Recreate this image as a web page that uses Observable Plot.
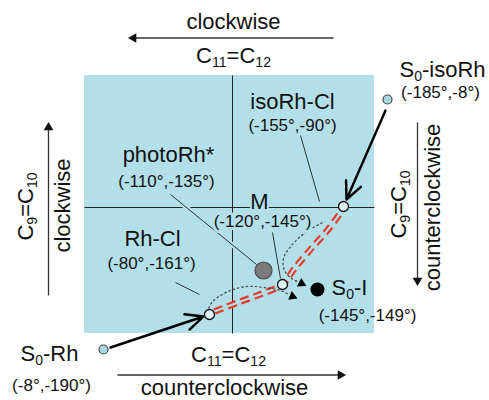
<!DOCTYPE html>
<html><head><meta charset="utf-8">
<script src="https://cdn.jsdelivr.net/npm/d3@7"></script>
<script src="https://cdn.jsdelivr.net/npm/@observablehq/plot@0.6"></script>
<style>body{margin:0;background:#fff;}</style>
</head><body><div id="chart"></div>
<script>
// ---- diagram data (schematic coordinates of the torsion-angle map) ----
const boxX = [84, 374], boxY = [75, 333];
const crossX1 = [84, 232], crossY1 = [207, 75], crossX2 = [374, 232], crossY2 = [207, 333];

const nodeName = ["S0-isoRh", "isoRh-Cl", "photoRh*", "M", "S0-I", "Rh-Cl", "S0-Rh"];
const nodeKind = ["ground", "open", "photo", "open", "product", "open", "ground"];
const nodeX = [387, 343, 263, 282, 317, 209, 103];
const nodeY = [99, 206, 270, 284, 289, 314, 349];

const leaderX1 = [170, 300, 272, 175], leaderY1 = [194, 135, 232, 282];
const leaderX2 = [256, 319, 280, 199], leaderY2 = [264, 201, 278, 294];

const pathX = [214, 240, 262, 282, 294, 310, 326, 341];
const pathY = [311, 301, 293, 284, 268, 249, 231, 211];

const dotSeries = ["a","a","a","a","a","a","a","b","b","b","b","b","b","b"];
const dotX = [208, 213, 230, 247, 263, 280, 288, 322, 305, 291, 283, 284, 291, 297];
const dotY = [308, 300, 290, 286, 287, 290, 294, 222, 232, 245, 258, 270, 278, 281];
const dotHeadX = [292, 301], dotHeadY = [296, 283], dotHeadAngle = [112, 118];

const bigArrowX1 = [385, 110], bigArrowY1 = [110, 347];
const bigArrowX2 = [346, 203], bigArrowY2 = [199, 316];

const axisX1 = [333, 117, 48, 417], axisY1 = [37.5, 374.5, 295, 122];
const axisX2 = [134, 339, 48, 417], axisY2 = [37.5, 374.5, 128, 279];
const axisHeadX = [133, 340, 48, 417], axisHeadY = [37.5, 374.5, 127, 280];
const axisHeadAngle = [-90, 90, 0, 180];

const outerText = ["clockwise", "C₁₁=C₁₂", "S₀-isoRh", "S₀-Rh", "C₁₁=C₁₂", "counterclockwise"];
const outerX = [233, 233, 442, 49, 228, 224];
const outerY = [21, 55, 69, 353, 354, 387];

const innerText = ["isoRh-Cl", "photoRh*", "M", "Rh-Cl", "S₀-I"];
const innerX = [292, 168, 259, 152, 349];
const innerY = [101, 154, 201, 238, 287];

const coordText = ["(-185°,-8°)", "(-155°,-90°)", "(-110°,-135°)", "(-120°,-145°)", "(-80°,-161°)", "(-145°,-149°)", "(-8°,-190°)"];
const coordX = [440, 292, 166, 262, 151, 367, 51];
const coordY = [92, 125, 181, 221, 263, 315, 385];
const coordInside = [false, true, true, true, true, false, false];

const sideText = ["C₉=C₁₀", "clockwise", "C₉=C₁₀", "counterclockwise"];
const sideX = [25, 62, 398, 432];
const sideY = [206, 205, 204, 207];

// ---- build tables ----
const idx = (n) => d3.range(n);
const BG = "#b3e0e8";
const nodes = nodeName.map((n, i) => ({name: n, kind: nodeKind[i], x: nodeX[i], y: nodeY[i]}));
const cross = idx(2).map(i => ({x1: crossX1[i], y1: crossY1[i], x2: crossX2[i], y2: crossY2[i]}));
const leaders = idx(4).map(i => ({x1: leaderX1[i], y1: leaderY1[i], x2: leaderX2[i], y2: leaderY2[i]}));
const redPath = pathX.map((x, i) => ({x, y: pathY[i]}));
const dotted = dotX.map((x, i) => ({s: dotSeries[i], x, y: dotY[i]}));
const dotHeads = dotHeadX.map((x, i) => ({x, y: dotHeadY[i], a: dotHeadAngle[i]}));
const bigArrows = idx(2).map(i => ({x1: bigArrowX1[i], y1: bigArrowY1[i], x2: bigArrowX2[i], y2: bigArrowY2[i]}));
const axes = idx(4).map(i => ({x1: axisX1[i], y1: axisY1[i], x2: axisX2[i], y2: axisY2[i]}));
const axisHeads = idx(4).map(i => ({x: axisHeadX[i], y: axisHeadY[i], a: axisHeadAngle[i]}));
const outer = outerText.map((t, i) => ({t, x: outerX[i], y: outerY[i]}));
const inner = innerText.map((t, i) => ({t, x: innerX[i], y: innerY[i]}));
const coords = coordText.map((t, i) => ({t, x: coordX[i], y: coordY[i], inside: coordInside[i]}));
const side = sideText.map((t, i) => ({t, x: sideX[i], y: sideY[i]}));
const ofKind = (k) => nodes.filter(d => d.kind === k);

const chart = Plot.plot({
  width: 489, height: 400, margin: 0,
  x: {domain: [0, 489], range: [0, 489], axis: null},
  y: {domain: [0, 400], range: [0, 400], axis: null},
  style: {fontFamily: "'Liberation Sans', Arial, sans-serif", background: "white"},
  marks: [
    Plot.rect([0], {x1: boxX[0], x2: boxX[1], y1: boxY[0], y2: boxY[1], fill: BG}),
    Plot.link(cross, {x1: "x1", y1: "y1", x2: "x2", y2: "y2", stroke: "#222", strokeWidth: 1}),
    Plot.link(leaders, {x1: "x1", y1: "y1", x2: "x2", y2: "y2", stroke: BG, strokeWidth: 5}),
    Plot.link(leaders, {x1: "x1", y1: "y1", x2: "x2", y2: "y2", stroke: "#333", strokeWidth: 1}),
    Plot.line(redPath, {x: "x", y: "y", curve: "catmull-rom", stroke: "#e8392b", strokeWidth: 6.5, strokeDasharray: "9,5", strokeLinecap: "butt"}),
    Plot.line(redPath, {x: "x", y: "y", curve: "catmull-rom", stroke: BG, strokeWidth: 2.2}),
    Plot.line(dotted, {x: "x", y: "y", z: "s", curve: "catmull-rom", stroke: "#444", strokeWidth: 1.2, strokeDasharray: "2.5,2", strokeLinecap: "butt"}),
    Plot.dot(dotHeads, {x: "x", y: "y", rotate: "a", symbol: "triangle", r: 3.5, fill: "#000", stroke: "none"}),
    Plot.arrow(bigArrows, {x1: "x1", y1: "y1", x2: "x2", y2: "y2", stroke: "#000", strokeWidth: 2.4, headLength: 12, headAngle: 50}),
    Plot.link(axes, {x1: "x1", y1: "y1", x2: "x2", y2: "y2", stroke: "#333", strokeWidth: 1.3}),
    Plot.dot(axisHeads, {x: "x", y: "y", rotate: "a", symbol: "triangle", r: 3.6, fill: "#111", stroke: "none"}),
    Plot.dot(ofKind("ground"), {x: "x", y: "y", r: 4.5, fill: "#a6d9e2", stroke: "#444", strokeWidth: 1.2}),
    Plot.dot(ofKind("open"), {x: "x", y: "y", r: 5, fill: "#dff2f5", stroke: "#111", strokeWidth: 1.3}),
    Plot.dot(ofKind("photo"), {x: "x", y: "y", r: 8.5, fill: "#7b7b7b", stroke: "#4a4a4a", strokeWidth: 1.2}),
    Plot.dot(ofKind("product"), {x: "x", y: "y", r: 7, fill: "#000", stroke: "none"}),
    Plot.text(outer, {x: "x", y: "y", text: "t", fontSize: 22, fill: "#111"}),
    Plot.text(inner, {x: "x", y: "y", text: "t", fontSize: 22, fill: "#111", stroke: BG, strokeWidth: 4}),
    Plot.text(coords.filter(d => !d.inside), {x: "x", y: "y", text: "t", fontSize: 17, fill: "#111"}),
    Plot.text(coords.filter(d => d.inside), {x: "x", y: "y", text: "t", fontSize: 17, fill: "#111", stroke: BG, strokeWidth: 6}),
    Plot.text(side, {x: "x", y: "y", text: "t", fontSize: 22, fill: "#111", rotate: -90})
  ]
});
document.getElementById("chart").appendChild(chart);

// turn Unicode subscript digits into real shifted subscripts
(function applySubscripts(root) {
  const SUB = "₀₁₂₃₄₅₆₇₈₉";
  const re = /([₀-₉]+)|([^₀-₉]+)/g;
  root.querySelectorAll("text").forEach(t => {
    const s = t.textContent;
    if (!/[₀-₉]/.test(s)) return;
    const fs = parseFloat(getComputedStyle(t).fontSize) || 22;
    const shift = fs * 0.2;
    while (t.firstChild) t.removeChild(t.firstChild);
    let down = false;
    for (const m of s.matchAll(re)) {
      const ts = document.createElementNS("http://www.w3.org/2000/svg", "tspan");
      if (m[1]) {
        ts.textContent = [...m[1]].map(c => SUB.indexOf(c)).join("");
        ts.setAttribute("font-size", (fs * 0.64).toFixed(1));
        if (!down) { ts.setAttribute("dy", shift.toFixed(1)); down = true; }
      } else {
        ts.textContent = m[2];
        if (down) { ts.setAttribute("dy", (-shift).toFixed(1)); down = false; }
      }
      t.appendChild(ts);
    }
  });
})(chart);
</script>
</body></html>
